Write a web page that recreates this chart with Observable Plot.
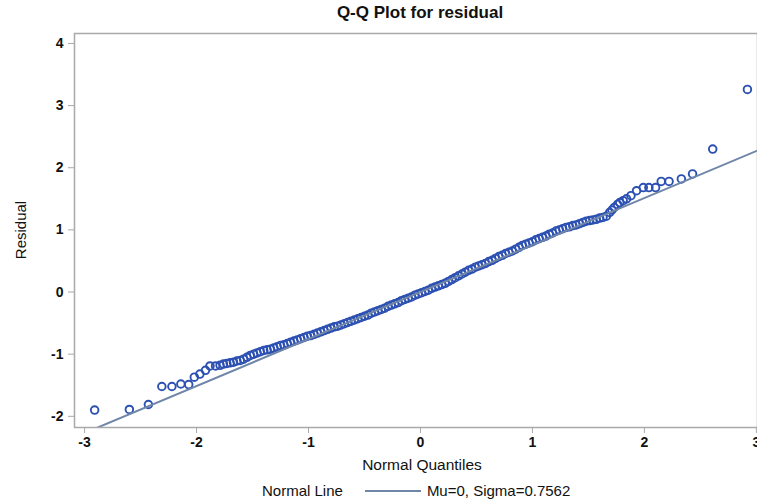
<!DOCTYPE html>
<html>
<head>
<meta charset="utf-8">
<script src="https://cdn.jsdelivr.net/npm/d3@7"></script>
<script src="https://cdn.jsdelivr.net/npm/@observablehq/plot@0.6"></script>
<style>
  html, body { margin: 0; padding: 0; background: #fff; }
  #wrap { position: relative; width: 757px; height: 504px; overflow: hidden; font-family: "Liberation Sans", Arial, sans-serif; }
  #title { position: absolute; top: 3px; left: 420px; transform: translateX(-50%); font-size: 17px; font-weight: bold; white-space: nowrap; color: #111; }
  #ylab { position: absolute; left: 20px; top: 230px; transform: translate(-50%, -50%) rotate(-90deg); font-size: 15px; white-space: nowrap; color: #111; }
  #xlab { position: absolute; top: 456px; left: 422px; transform: translateX(-50%); font-size: 15.5px; white-space: nowrap; color: #111; }
  #legend { position: absolute; top: 482px; left: 262px; font-size: 15px; white-space: nowrap; color: #111; display: flex; align-items: center; }
  #legend .sw { display: inline-block; width: 56px; height: 2px; background: #6f86a8; margin: 0 6px 0 22px; }
  svg [aria-label$="tick label"] text, svg [aria-label$="tick label"] { font-weight: bold; }
</style>
</head>
<body>
<div id="wrap">
  <div id="chart"></div>
  <div id="title"></div>
  <div id="ylab"></div>
  <div id="xlab"></div>
  <div id="legend"></div>
</div>
<script>
const titleText = "Q-Q Plot for residual";
const xLabel = "Normal Quantiles";
const yLabel = "Residual";
const legendTitle = "Normal Line";
const mu = 0;
const sigma = 0.7562;
const legendLabel = "Mu=0, Sigma=0.7562";
const xTicks = [-3, -2, -1, 0, 1, 2, 3];
const yTicks = [-2, -1, 0, 1, 2, 3, 4];
const lineExtent = [-3.09, 3.01];

const quantiles = [
  -2.91, -2.60, -2.43, -2.31, -2.22, -2.14, -2.07, -2.02, -1.97, -1.92, -1.88, -1.83, -1.79, -1.76, -1.73,
  -1.70, -1.67, -1.64, -1.61, -1.58, -1.55, -1.52, -1.49, -1.46, -1.43, -1.40, -1.37, -1.34, -1.31, -1.28, -1.25, -1.22, -1.19, -1.16,
  -1.13, -1.10, -1.07, -1.04, -1.01, -0.98, -0.95, -0.92, -0.89, -0.86,
  -0.83, -0.80, -0.77, -0.74, -0.71, -0.68, -0.65, -0.62, -0.59, -0.56,
  -0.53, -0.50, -0.47, -0.44, -0.41, -0.38, -0.35, -0.32, -0.29,
  -0.26, -0.23, -0.20, -0.17, -0.14, -0.11, -0.08, -0.05, -0.02,
  0.01, 0.04, 0.07, 0.10, 0.13, 0.16, 0.19, 0.22, 0.25,
  0.28, 0.31, 0.34, 0.37, 0.40, 0.43, 0.46, 0.49, 0.52,
  0.55, 0.58, 0.61, 0.64, 0.67, 0.70, 0.73, 0.76, 0.79, 0.82,
  0.85, 0.88, 0.91, 0.94, 0.97, 1.00, 1.03, 1.06, 1.09, 1.12,
  1.15, 1.18, 1.21, 1.24, 1.27, 1.30, 1.33, 1.36, 1.39, 1.42,
  1.45, 1.48, 1.51, 1.54, 1.57, 1.60, 1.63,
  1.66, 1.69, 1.71, 1.73, 1.76, 1.78, 1.81, 1.84, 1.88, 1.93, 1.99, 2.04, 2.10, 2.15, 2.22, 2.33, 2.43, 2.61, 2.92
];
const residuals = [
  -1.90, -1.89, -1.81, -1.52, -1.52, -1.48, -1.49, -1.37, -1.32, -1.26, -1.19, -1.19, -1.18, -1.16, -1.15,
  -1.14, -1.13, -1.11, -1.10, -1.08, -1.05, -1.02, -1.00, -0.98, -0.96, -0.94, -0.93, -0.92, -0.90, -0.88, -0.86, -0.85, -0.83, -0.81,
  -0.79, -0.77, -0.75, -0.73, -0.71, -0.70, -0.68, -0.66, -0.64, -0.62,
  -0.60, -0.58, -0.56, -0.55, -0.53, -0.51, -0.49, -0.47, -0.45, -0.43,
  -0.41, -0.39, -0.37, -0.34, -0.32, -0.30, -0.28, -0.26, -0.23,
  -0.21, -0.19, -0.17, -0.14, -0.12, -0.10, -0.08, -0.05, -0.03,
  -0.01, 0.01, 0.03, 0.06, 0.08, 0.10, 0.12, 0.14, 0.17,
  0.20, 0.23, 0.26, 0.29, 0.32, 0.35, 0.37, 0.40, 0.42,
  0.44, 0.46, 0.49, 0.51, 0.54, 0.57, 0.59, 0.62, 0.64, 0.66,
  0.69, 0.72, 0.75, 0.77, 0.79, 0.81, 0.84, 0.86, 0.88, 0.90,
  0.93, 0.95, 0.98, 1.00, 1.02, 1.04, 1.05, 1.07, 1.08, 1.10,
  1.12, 1.14, 1.15, 1.16, 1.17, 1.19, 1.20,
  1.22, 1.28, 1.32, 1.36, 1.41, 1.44, 1.47, 1.50, 1.55, 1.63, 1.68, 1.68, 1.68, 1.78, 1.78, 1.82, 1.90, 2.30, 3.26
];

const points = quantiles.map((q, i) => ({q, r: residuals[i]}));
const normalLine = lineExtent.map(q => ({q, r: mu + sigma * q}));

const chart = Plot.plot({
  width: 757,
  height: 504,
  marginLeft: 74,
  marginRight: 0,
  marginTop: 33,
  marginBottom: 77,
  style: {fontFamily: "'Liberation Sans', Arial, sans-serif", fontSize: "14px", color: "#111", background: "#fff"},
  x: {domain: [-3.09, 3.01], label: null},
  y: {domain: [-2.18, 4.16], label: null},
  marks: [
    Plot.dot(points, {x: "q", y: "r", r: 3.8, stroke: "#2c50b2", strokeWidth: 1.9, fill: "none", clip: true}),
    Plot.line(normalLine, {x: "q", y: "r", stroke: "#6f86a8", strokeWidth: 2, clip: true}),
    Plot.frame({stroke: "#a9a9a9", strokeWidth: 1.5}),
    Plot.axisX({ticks: xTicks, tickFormat: d => String(d), tickSize: 6, tickPadding: 4, stroke: "#a9a9a9", fontSize: 14, label: null}),
    Plot.axisY({ticks: yTicks, tickFormat: d => String(d), tickSize: 6, tickPadding: 5, stroke: "#a9a9a9", fontSize: 14, label: null})
  ]
});
document.getElementById("chart").appendChild(chart);
document.getElementById("title").textContent = titleText;
document.getElementById("ylab").textContent = yLabel;
document.getElementById("xlab").textContent = xLabel;
const lg = document.getElementById("legend");
lg.innerHTML = "";
const t1 = document.createElement("span"); t1.textContent = legendTitle; lg.appendChild(t1);
const sw = document.createElement("span"); sw.className = "sw"; lg.appendChild(sw);
const t2 = document.createElement("span"); t2.textContent = legendLabel; lg.appendChild(t2);
</script>
</body>
</html>
